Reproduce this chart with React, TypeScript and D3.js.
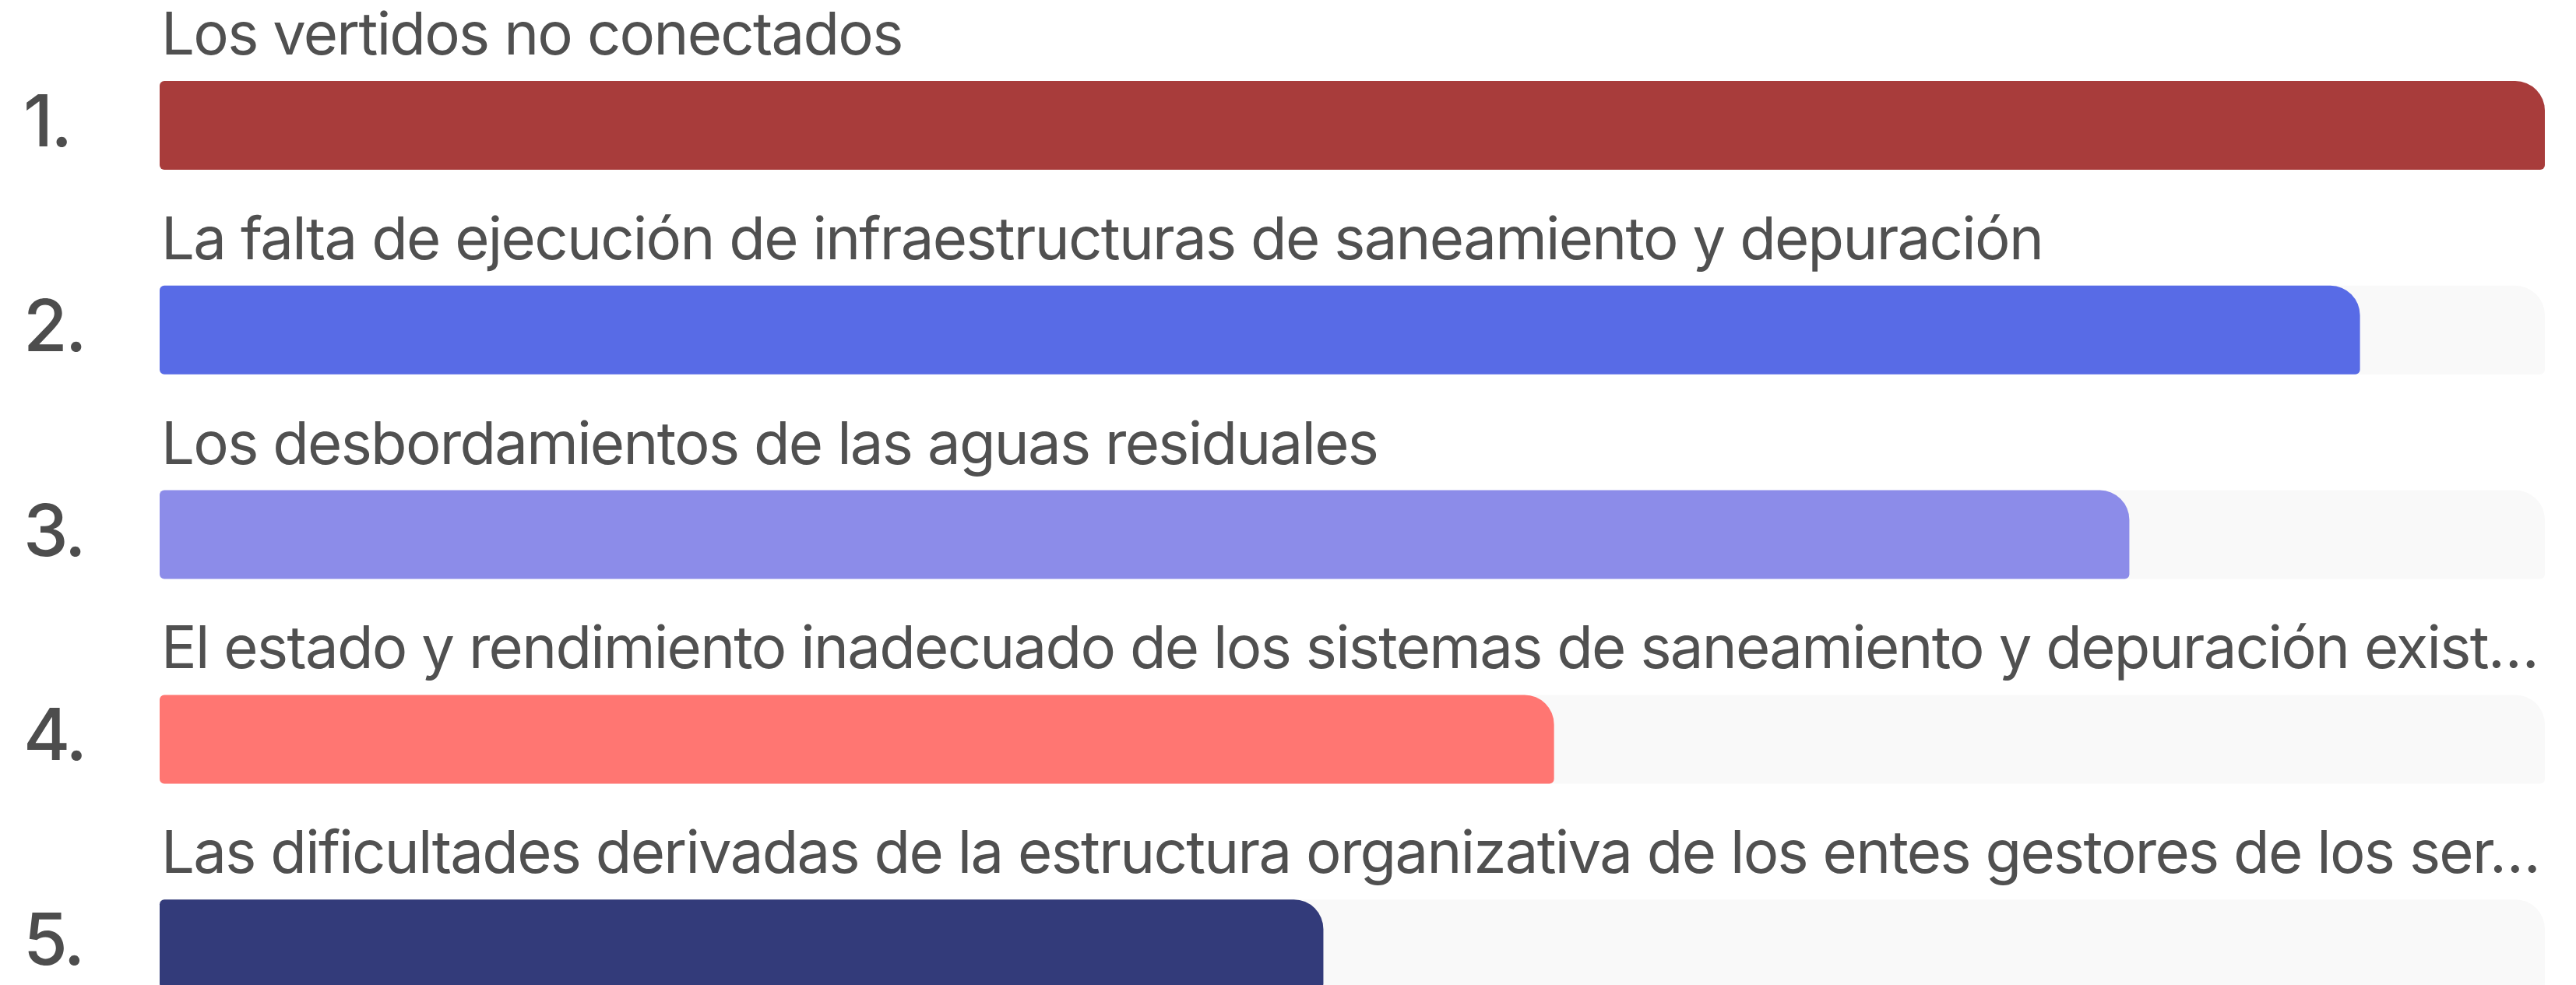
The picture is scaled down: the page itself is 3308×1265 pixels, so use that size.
import React from "react";
import * as d3 from "d3";

const ranks = ["1.", "2.", "3.", "4.", "5."];
const labels = [
  "Los vertidos no conectados",
  "La falta de ejecución de infraestructuras de saneamiento y depuración",
  "Los desbordamientos de las aguas residuales",
  "El estado y rendimiento inadecuado de los sistemas de saneamiento y depuración exist…",
  "Las dificultades derivadas de la estructura organizativa de los entes gestores de los ser…",
];
const values = [100, 92.25, 82.58, 58.46, 48.79];
const colors = ["#a83c3b", "#586be6", "#8c8ce9", "#ff7672", "#333b7a"];

const width = 3308;
const height = 1265;
const left = 205;
const right = 3268;
const barH = 114;
const step = 262.8;

// rectangle with separate corner radii (tl, tr, br, bl)
const barPath = (x: number, y: number, w: number, h: number, tl: number, tr: number, br: number, bl: number) => {
  const p = d3.path();
  p.moveTo(x + tl, y);
  p.lineTo(x + w - tr, y);
  p.arcTo(x + w, y, x + w, y + tr, tr);
  p.lineTo(x + w, y + h - br);
  p.arcTo(x + w, y + h, x + w - br, y + h, br);
  p.lineTo(x + bl, y + h);
  p.arcTo(x, y + h, x, y + h - bl, bl);
  p.lineTo(x, y + tl);
  p.arcTo(x, y, x + tl, y, tl);
  p.closePath();
  return p.toString();
};

const App = () => {
  const x = d3.scaleLinear().domain([0, 100]).range([left, right]);
  const inner = 1 - barH / step;
  const y = d3
    .scaleBand<string>()
    .domain(ranks)
    .range([104, 104 + 4 * step + barH])
    .paddingInner(inner)
    .paddingOuter(0);

  return (
    <svg
      width={width}
      height={height}
      style={{ position: "absolute", left: 0, top: 0, display: "block", background: "#fff" }}
    >
      {ranks.map((r, i) => {
        const top = y(r) as number;
        return (
          <g key={r}>
            <path d={barPath(x(0), top, x(100) - x(0), y.bandwidth(), 6, 38, 6, 6)} fill="#f9f9f9" />
            <path d={barPath(x(0), top, x(values[i]) - x(0), y.bandwidth(), 6, 38, 6, 6)} fill={colors[i]} />
            <text
              x={left + 2}
              y={top - 34}
              fontFamily="Inter, 'Noto Sans', sans-serif"
              fontSize={76}
              fill="#505050"
              letterSpacing={-1.7}
            >
              {labels[i]}
            </text>
            <text
              x={30}
              y={top + 84}
              fontFamily="Inter, 'Noto Sans', sans-serif"
              fontSize={92}
              fontWeight={500}
              fill="#4d4d4d"
              letterSpacing={-3}
            >
              {r}
            </text>
          </g>
        );
      })}
    </svg>
  );
};

export default App;
